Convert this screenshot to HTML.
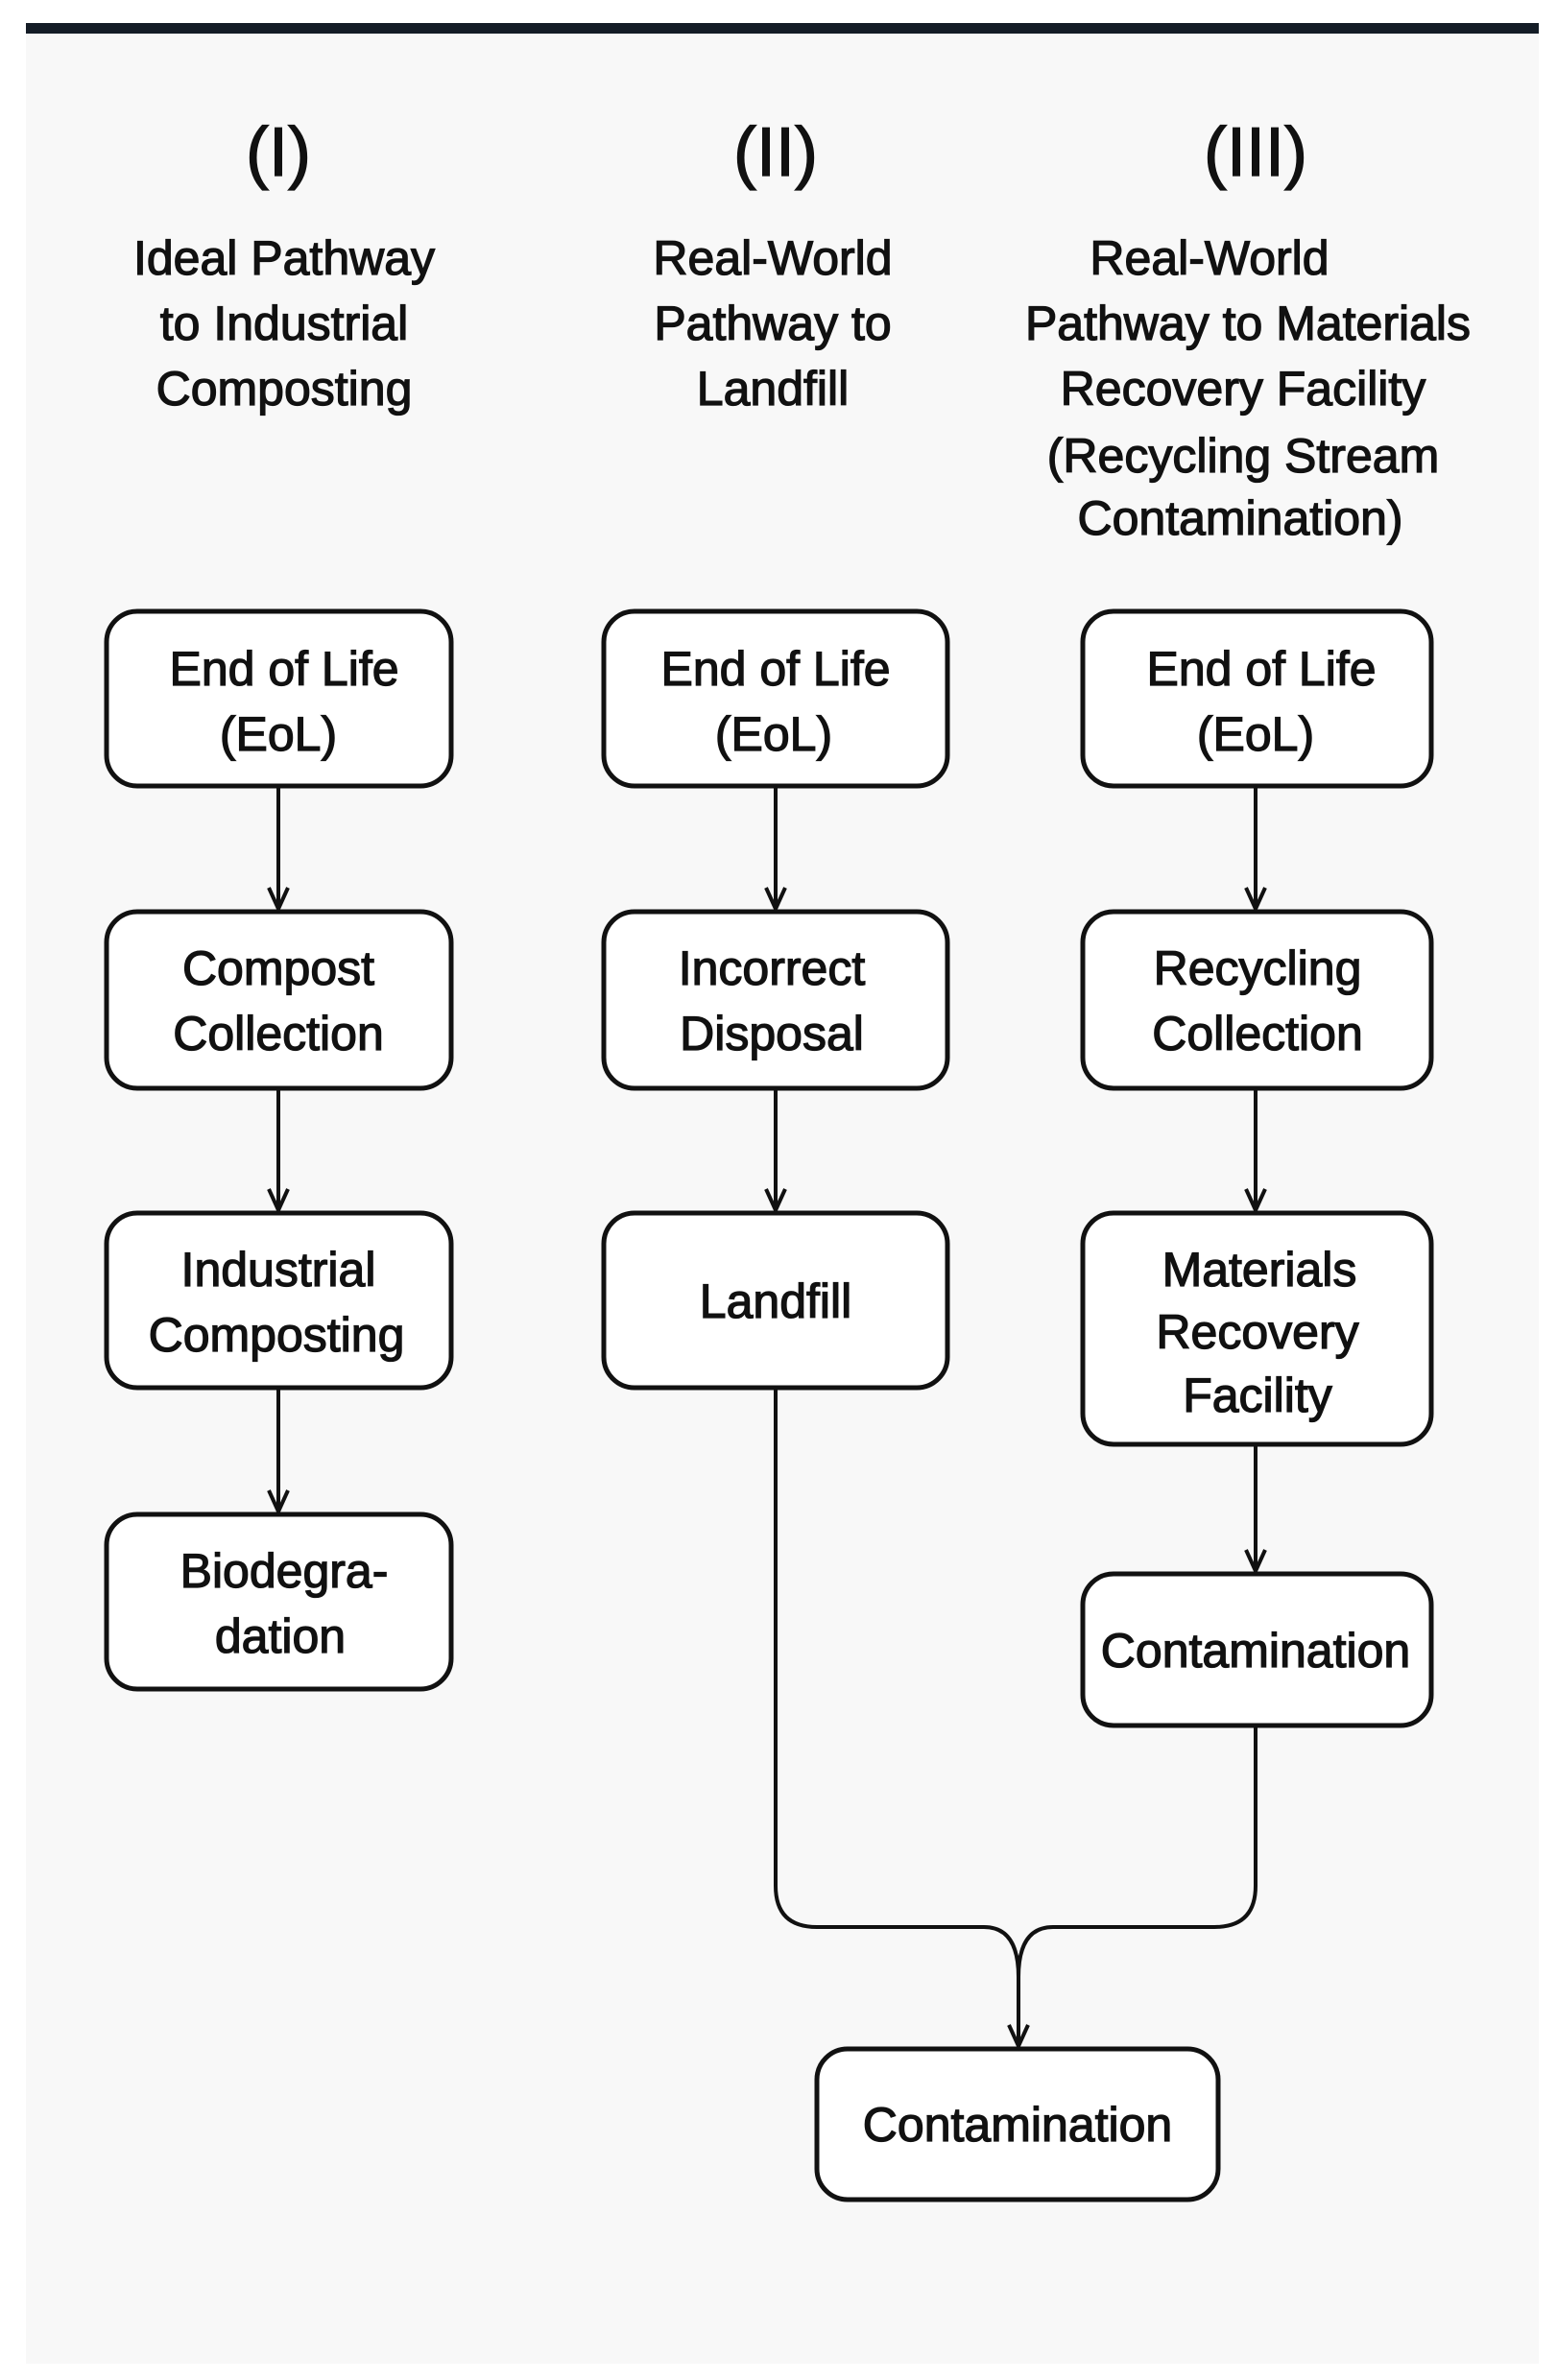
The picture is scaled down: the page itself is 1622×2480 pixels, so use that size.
<!DOCTYPE html>
<html><head><meta charset="utf-8"><style>
html,body{margin:0;padding:0;background:#fff;}
svg{display:block;}
text{font-family:"Liberation Sans",sans-serif;fill:#111;stroke:#111;stroke-width:1.3;text-anchor:middle;}
</style></head><body>
<svg width="1622" height="2480" viewBox="0 0 1622 2480" xmlns="http://www.w3.org/2000/svg">
<rect x="27" y="35" width="1576" height="2428" fill="#f8f8f8"/>
<rect x="27" y="24" width="1576" height="11" fill="#141c26"/>

<g font-size="72" style="stroke-width:2">
<text x="290" y="183">(I)</text>
<text x="808" y="183">(II)</text>
<text x="1308" y="183">(III)</text>
</g>
<g font-size="50">
<text x="296" y="286">Ideal Pathway</text>
<text x="296" y="354">to Industrial</text>
<text x="296" y="422">Composting</text>
<text x="805" y="286">Real-World</text>
<text x="805" y="354">Pathway to</text>
<text x="805" y="422">Landfill</text>
<text x="1260" y="286">Real-World</text>
<text x="1300" y="354">Pathway to Materials</text>
<text x="1295" y="422">Recovery Facility</text>
<text x="1295" y="492">(Recycling Stream</text>
<text x="1292" y="557">Contamination)</text>
</g>

<g fill="#fff" stroke="#111" stroke-width="5">
<rect x="111" y="637" width="359" height="182" rx="32"/>
<rect x="111" y="950" width="359" height="184" rx="32"/>
<rect x="111" y="1264" width="359" height="182" rx="32"/>
<rect x="111" y="1578" width="359" height="182" rx="32"/>
<rect x="629" y="637" width="358" height="182" rx="32"/>
<rect x="629" y="950" width="358" height="184" rx="32"/>
<rect x="629" y="1264" width="358" height="182" rx="32"/>
<rect x="1128" y="637" width="363" height="182" rx="32"/>
<rect x="1128" y="950" width="363" height="184" rx="32"/>
<rect x="1128" y="1264" width="363" height="241" rx="32"/>
<rect x="1128" y="1640" width="363" height="158" rx="32"/>
<rect x="851" y="2135" width="418" height="157" rx="32"/>
</g>

<g font-size="50">
<text x="296" y="714">End of Life</text>
<text x="290" y="782">(EoL)</text>
<text x="290" y="1026">Compost</text>
<text x="290" y="1094">Collection</text>
<text x="290" y="1340">Industrial</text>
<text x="288" y="1408">Composting</text>
<text x="296" y="1654">Biodegra-</text>
<text x="292" y="1722">dation</text>

<text x="808" y="714">End of Life</text>
<text x="806" y="782">(EoL)</text>
<text x="804" y="1026">Incorrect</text>
<text x="804" y="1094">Disposal</text>
<text x="808" y="1373">Landfill</text>

<text x="1314" y="714">End of Life</text>
<text x="1308" y="782">(EoL)</text>
<text x="1310" y="1026">Recycling</text>
<text x="1310" y="1094">Collection</text>
<text x="1312" y="1340">Materials</text>
<text x="1310" y="1405">Recovery</text>
<text x="1310" y="1471">Facility</text>
<text x="1308" y="1737">Contamination</text>
<text x="1060" y="2231">Contamination</text>
</g>

<g fill="none" stroke="#111" stroke-width="4">
<path d="M290 819V947M280 925l10 22l10-22"/>
<path d="M290 1134V1261M280 1239l10 22l10-22"/>
<path d="M290 1446V1575M280 1553l10 22l10-22"/>
<path d="M808 819V947M798 925l10 22l10-22"/>
<path d="M808 1134V1261M798 1239l10 22l10-22"/>
<path d="M1308 819V947M1298 925l10 22l10-22"/>
<path d="M1308 1134V1261M1298 1239l10 22l10-22"/>
<path d="M1308 1505V1637M1298 1615l10 22l10-22"/>
<path d="M808 1446V1965Q808 2008 851 2008H1025Q1061 2008 1061 2060V2132"/>
<path d="M1308 1798V1965Q1308 2008 1265 2008H1097Q1061 2008 1061 2060"/>
<path d="M1051 2110l10 22l10-22"/>
</g>
</svg>
</body></html>
